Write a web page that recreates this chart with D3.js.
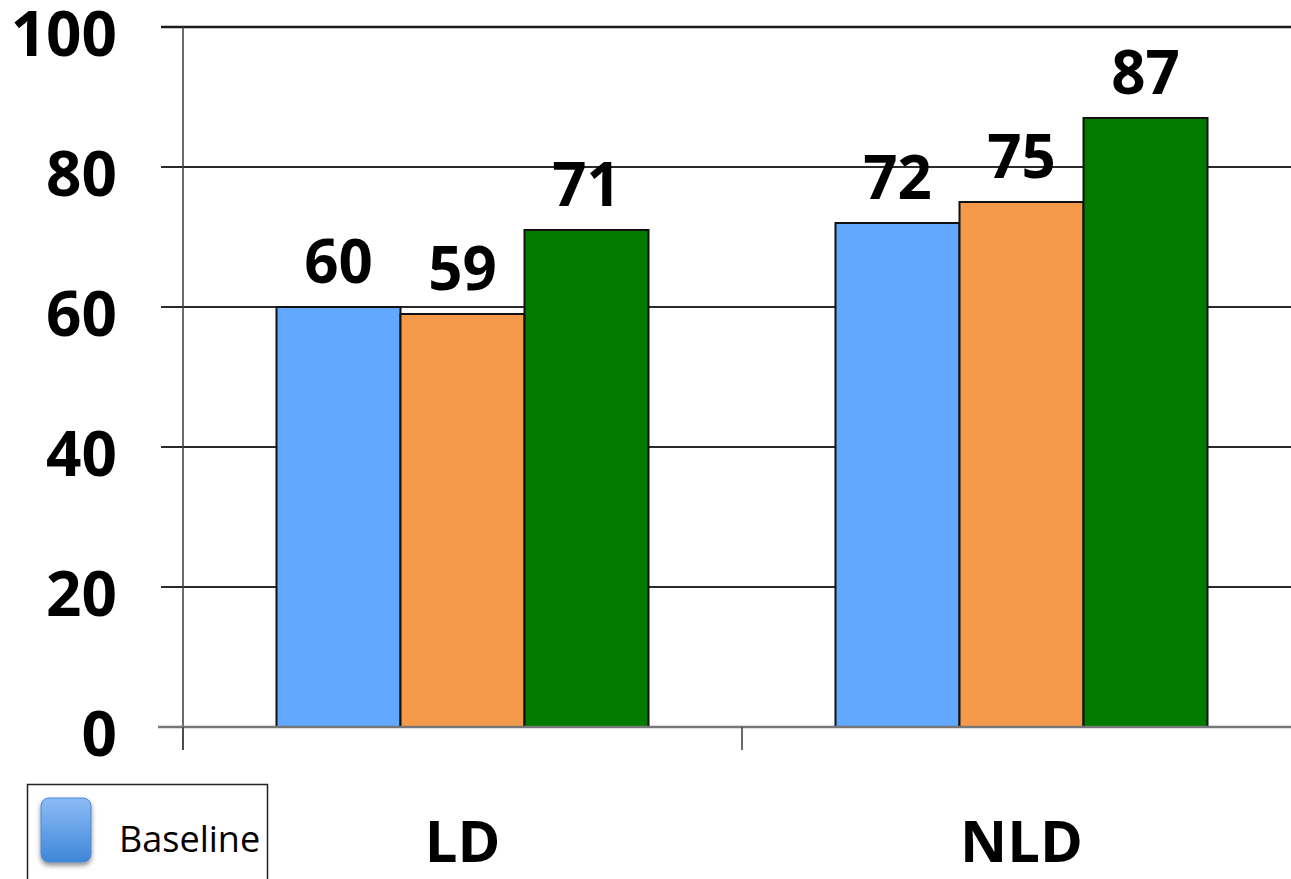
<!DOCTYPE html>
<html>
<head>
<meta charset="utf-8">
<script src="https://cdn.jsdelivr.net/npm/d3@7/dist/d3.min.js"></script>
<style>
  html, body { margin: 0; padding: 0; background: #fff; overflow: hidden; }
  svg { display: block; }
</style>
</head>
<body>
<svg id="chart" width="1291" height="879"></svg>
<script>
// Groups and the three measured conditions
const categories = ["LD", "NLD"];
const seriesNames = ["Baseline", "Condition 2", "Condition 3"];
const seriesColors = ["#63a8ff", "#f5994a", "#007b00"];
const valuesBySeries = [
  [60, 72],   // Baseline
  [59, 75],   // second condition
  [71, 87]    // third condition
];
const yTicks = [0, 20, 40, 60, 80, 100];
const legendLabels = ["Baseline"];

const svg = d3.select("#chart");
const font = "'Open Sans', 'DejaVu Sans', sans-serif";

// Plot frame
const plotLeft = 183, plotRight = 1301, plotTop = 27, plotBottom = 727;

const x = d3.scaleBand().domain(categories).range([plotLeft, plotRight]).paddingInner(0).paddingOuter(0);
const xInner = d3.scaleBand().domain(d3.range(seriesNames.length))
  .range([0, x.bandwidth()]).paddingInner(0).paddingOuter(0.754);
const y = d3.scaleLinear().domain([0, 100]).range([plotBottom, plotTop]);

// Horizontal gridlines with short ticks left of the axis
svg.append("g").selectAll("line").data(yTicks.filter(d => d > 0)).join("line")
  .attr("x1", plotLeft - 22).attr("x2", plotRight)
  .attr("y1", d => y(d)).attr("y2", d => y(d))
  .attr("stroke", d => d === 100 ? "#1a1a1a" : "#2a2a2a")
  .attr("stroke-width", d => d === 100 ? 2.5 : 1.8);

// Y tick labels
svg.append("g").selectAll("text").data(yTicks).join("text")
  .attr("x", 117).attr("y", d => y(d) + 29)
  .attr("text-anchor", "end")
  .attr("font-family", font).attr("font-weight", 700).attr("font-size", 62)
  .attr("fill", "#000")
  .text(d => d);

// Bars
const rows = [];
valuesBySeries.forEach((vals, s) => vals.forEach((v, c) => rows.push({ s, c, v })));

svg.append("g").selectAll("rect").data(rows).join("rect")
  .attr("x", d => x(categories[d.c]) + xInner(d.s))
  .attr("y", d => y(d.v))
  .attr("width", xInner.bandwidth())
  .attr("height", d => y(0) - y(d.v))
  .attr("fill", d => seriesColors[d.s])
  .attr("stroke", "#111").attr("stroke-width", 2);

// Value labels above the bars
svg.append("g").selectAll("text").data(rows).join("text")
  .attr("x", d => x(categories[d.c]) + xInner(d.s) + xInner.bandwidth() / 2)
  .attr("y", d => y(d.v) - 24)
  .attr("text-anchor", "middle")
  .attr("font-family", font).attr("font-weight", 700).attr("font-size", 60)
  .attr("fill", "#000")
  .text(d => d.v);

// Axis lines
svg.append("line")
  .attr("x1", plotLeft).attr("x2", plotLeft).attr("y1", plotTop).attr("y2", plotBottom + 23)
  .attr("stroke", "#444").attr("stroke-width", 1.6);
svg.append("line")
  .attr("x1", 158).attr("x2", plotRight).attr("y1", plotBottom).attr("y2", plotBottom)
  .attr("stroke", "#777").attr("stroke-width", 2.5);
// Category separators on the x axis
svg.append("g").selectAll("line").data(categories).join("line")
  .attr("x1", d => x(d)).attr("x2", d => x(d))
  .attr("y1", plotBottom).attr("y2", plotBottom + 23)
  .attr("stroke", "#444").attr("stroke-width", 1.6);

// Category labels
svg.append("g").selectAll("text").data(categories).join("text")
  .attr("x", d => x(d) + xInner(1) + xInner.bandwidth() / 2)
  .attr("y", 862)
  .attr("text-anchor", "middle")
  .attr("font-family", font).attr("font-weight", 700).attr("font-size", 58)
  .attr("fill", "#000")
  .text(d => d);

// Legend
const defs = svg.append("defs");
const grad = defs.append("linearGradient").attr("id", "swatchGrad")
  .attr("x1", 0).attr("y1", 0).attr("x2", 0).attr("y2", 1);
grad.append("stop").attr("offset", "0%").attr("stop-color", "#8cbcf5");
grad.append("stop").attr("offset", "100%").attr("stop-color", "#3f86d9");
const shadow = defs.append("filter").attr("id", "swatchShadow")
  .attr("x", "-30%").attr("y", "-30%").attr("width", "160%").attr("height", "160%");
shadow.append("feDropShadow").attr("dx", 0).attr("dy", 3).attr("stdDeviation", 2.5)
  .attr("flood-color", "#000").attr("flood-opacity", 0.45);

const legend = svg.append("g");
legend.append("rect")
  .attr("x", 27.5).attr("y", 784.5).attr("width", 240).attr("height", 120)
  .attr("fill", "#fff").attr("stroke", "#222").attr("stroke-width", 1.5);
legend.selectAll("rect.sw").data(legendLabels).join("rect").attr("class", "sw")
  .attr("x", 41).attr("y", 798).attr("width", 50).attr("height", 64)
  .attr("rx", 8).attr("ry", 8)
  .attr("fill", "url(#swatchGrad)").attr("stroke", "#4a88d0").attr("stroke-width", 1)
  .attr("filter", "url(#swatchShadow)");
legend.selectAll("text").data(legendLabels).join("text")
  .attr("x", 119).attr("y", 852)
  .attr("font-family", font).attr("font-size", 36)
  .attr("fill", "#000")
  .text(d => d);
</script>
</body>
</html>
